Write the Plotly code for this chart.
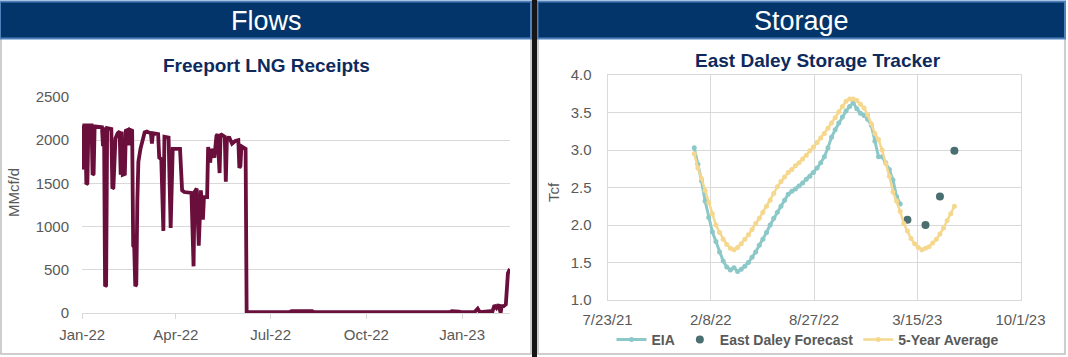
import plotly.graph_objects as go
import pandas as pd

W, H = 1068, 357

# ---------------- Data: Freeport LNG Receipts (MMcf/d) ----------------
flow_dates = [
    "2022-01-01", "2022-01-02", "2022-01-03", "2022-01-04", "2022-01-05", "2022-01-06",
    "2022-01-07", "2022-01-10", "2022-01-11", "2022-01-12", "2022-01-13", "2022-01-20",
    "2022-01-21", "2022-01-22", "2022-01-23", "2022-01-24", "2022-01-25", "2022-01-29",
    "2022-01-30", "2022-01-31", "2022-02-02", "2022-02-04", "2022-02-06", "2022-02-07",
    "2022-02-08", "2022-02-09", "2022-02-11", "2022-02-12", "2022-02-14", "2022-02-15",
    "2022-02-16", "2022-02-18", "2022-02-19", "2022-02-20", "2022-02-21", "2022-02-22",
    "2022-02-23", "2022-02-24", "2022-02-26", "2022-02-28", "2022-03-02", "2022-03-04",
    "2022-03-08", "2022-03-09", "2022-03-10", "2022-03-15", "2022-03-16", "2022-03-18",
    "2022-03-20", "2022-03-21", "2022-03-25", "2022-03-27", "2022-03-29", "2022-04-05",
    "2022-04-07", "2022-04-09", "2022-04-16", "2022-04-18", "2022-04-19", "2022-04-21",
    "2022-04-23", "2022-04-25", "2022-04-27", "2022-04-28", "2022-05-01", "2022-05-02",
    "2022-05-04", "2022-05-05", "2022-05-08", "2022-05-10", "2022-05-11", "2022-05-13",
    "2022-05-14", "2022-05-18", "2022-05-19", "2022-05-20", "2022-05-22", "2022-05-25",
    "2022-05-28", "2022-05-31", "2022-06-01", "2022-06-02", "2022-06-03", "2022-06-07",
    "2022-06-08", "2022-07-19", "2022-07-21", "2022-08-10", "2022-08-12", "2022-12-20",
    "2022-12-22", "2022-12-29", "2022-12-31", "2023-01-13", "2023-01-16", "2023-01-18",
    "2023-01-24", "2023-01-28", "2023-01-30", "2023-02-01", "2023-02-03", "2023-02-05",
    "2023-02-07", "2023-02-08", "2023-02-10", "2023-02-12", "2023-02-14", "2023-02-16",
]
flow_vals = [
    2170, 1660, 2170, 2170, 1490, 1500,
    2170, 2170, 1600, 1610, 2160, 2150,
    1930, 2150, 310, 320, 2140, 2130,
    1440, 1450, 2020, 2080, 2100, 1600,
    2100, 1600, 1610, 2110, 2120, 1940,
    2120, 2110, 780, 760, 310, 330,
    1300, 1750, 1900, 2000, 2090, 2100,
    2080, 1960, 2080, 2070, 1800, 1780,
    950, 2040, 2030, 985, 1900, 1900,
    1420, 1400, 1390, 540, 1400, 1440,
    780, 1420, 1080, 1340, 1340, 1920,
    1740, 1900, 1800, 2050, 2070, 1620,
    2070, 2040, 1520, 2000, 2040, 1960,
    1990, 2000, 1680, 1700, 1930, 1900,
    10, 10, 20, 20, 10, 10,
    20, 15, 10, 10, 50, 10,
    20, 20, 10, 90, 60, 100,
    0, 80, 80, 100, 460, 510,
]

# ---------------- Data: East Daley Storage Tracker (Tcf) ----------------
eia_start = "2022-01-07"
eia_vals = [
    3.03, 2.81, 2.59, 2.32, 2.10, 1.91, 1.78, 1.64, 1.52, 1.44,
    1.40, 1.43, 1.38, 1.41, 1.45, 1.50, 1.57, 1.64, 1.73, 1.81,
    1.90, 2.00, 2.09, 2.17, 2.25, 2.33, 2.41, 2.45, 2.48, 2.52,
    2.56, 2.61, 2.65, 2.70, 2.76, 2.83, 2.91, 3.03, 3.17, 3.27,
    3.36, 3.44, 3.52, 3.58, 3.63, 3.55, 3.49, 3.46, 3.41, 3.33,
    3.12, 2.91, 2.91, 2.83, 2.74, 2.60, 2.38, 2.28,
]
avg5_start = "2022-01-07"
avg5_vals = [
    2.95, 2.76, 2.62, 2.46, 2.30, 2.15, 2.00, 1.90, 1.81, 1.74,
    1.69, 1.67, 1.70, 1.75, 1.81, 1.87, 1.94, 2.02, 2.09, 2.17,
    2.25, 2.33, 2.42, 2.51, 2.58, 2.64, 2.70, 2.74, 2.79, 2.83,
    2.88, 2.93, 2.99, 3.04, 3.10, 3.16, 3.22, 3.29, 3.36, 3.43,
    3.51, 3.58, 3.65, 3.68, 3.68, 3.66, 3.61, 3.56, 3.47, 3.35,
    3.22, 3.14, 3.00, 2.82, 2.65, 2.44, 2.32, 2.18, 2.02, 1.92,
    1.82, 1.75, 1.70, 1.67, 1.69, 1.71, 1.76, 1.81, 1.88, 1.96,
    2.06, 2.15, 2.25,
]
fc_dates = ["2023-02-24", "2023-03-31", "2023-04-28", "2023-05-26"]
fc_vals = [2.07, 2.00, 2.38, 2.99]

eia_dates = pd.date_range(eia_start, periods=len(eia_vals), freq="7D")
avg5_dates = pd.date_range(avg5_start, periods=len(avg5_vals), freq="7D")

# ---------------- helpers ----------------
def X(p):
    return p / W

def Y(p):
    return 1 - p / H

NAVY = "#03356A"
HDR_BORDER = "#4F81BD"
GRID = "#D9D9D9"
TICK = "#595959"
TITLE = "#0E2A5C"
FONT = "Liberation Sans, Arial, sans-serif"

fig = go.Figure()

fig.add_trace(go.Scatter(
    x=flow_dates, y=flow_vals, mode="lines",
    line=dict(color="#6A0F3C", width=3.8),
    xaxis="x", yaxis="y", showlegend=False, hoverinfo="x+y",
))

fig.add_trace(go.Scatter(
    x=eia_dates, y=eia_vals, mode="lines+markers", name="EIA",
    line=dict(color="#8CC8C8", width=3),
    marker=dict(size=5, color="#8CC8C8"),
    xaxis="x2", yaxis="y2",
))
fig.add_trace(go.Scatter(
    x=fc_dates, y=fc_vals, mode="markers", name="East Daley Forecast",
    marker=dict(size=8, color="#4A6F71"),
    xaxis="x2", yaxis="y2",
))
fig.add_trace(go.Scatter(
    x=avg5_dates, y=avg5_vals, mode="lines+markers", name="5-Year Average",
    line=dict(color="#F5D78E", width=2.5),
    marker=dict(size=5, color="#F5D78E"),
    xaxis="x2", yaxis="y2",
))

shapes = [
    # panel bodies
    dict(type="rect", xref="paper", yref="paper", x0=X(1), x1=X(531), y0=Y(354), y1=Y(38),
         fillcolor="white", line=dict(color="#BFBFBF", width=1.5), layer="below"),
    dict(type="rect", xref="paper", yref="paper", x0=X(538), x1=X(1065), y0=Y(354), y1=Y(38),
         fillcolor="white", line=dict(color="#BFBFBF", width=1.5), layer="below"),
    # headers
    dict(type="rect", xref="paper", yref="paper", x0=X(0), x1=X(531), y0=Y(38.5), y1=Y(1.5),
         fillcolor=NAVY, line=dict(color=HDR_BORDER, width=2), layer="below"),
    dict(type="rect", xref="paper", yref="paper", x0=X(537.5), x1=X(1065), y0=Y(38.5), y1=Y(1.5),
         fillcolor=NAVY, line=dict(color=HDR_BORDER, width=2), layer="below"),
    # dark separator
    dict(type="rect", xref="paper", yref="paper", x0=X(532), x1=X(537), y0=0, y1=1,
         fillcolor="#151515", line=dict(width=0), layer="below"),
]

annotations = [
    dict(text="Flows", x=X(266), y=Y(21), xref="paper", yref="paper", showarrow=False,
         xanchor="center", yanchor="middle", font=dict(family=FONT, size=27, color="white")),
    dict(text="Storage", x=X(801), y=Y(21), xref="paper", yref="paper", showarrow=False,
         xanchor="center", yanchor="middle", font=dict(family=FONT, size=27, color="white")),
    dict(text="<b>Freeport LNG Receipts</b>", x=X(266), y=Y(65), xref="paper", yref="paper",
         showarrow=False, xanchor="center", yanchor="middle",
         font=dict(family=FONT, size=19, color=TITLE)),
    dict(text="<b>East Daley Storage Tracker</b>", x=X(818), y=Y(60), xref="paper", yref="paper",
         showarrow=False, xanchor="center", yanchor="middle",
         font=dict(family=FONT, size=19, color=TITLE)),
    dict(text="MMcf/d", x=X(13), y=Y(193), xref="paper", yref="paper", showarrow=False,
         textangle=-90, xanchor="center", yanchor="middle",
         font=dict(family=FONT, size=15, color=TICK)),
    dict(text="Tcf", x=X(553), y=Y(192), xref="paper", yref="paper", showarrow=False,
         textangle=-90, xanchor="center", yanchor="middle",
         font=dict(family=FONT, size=15, color=TICK)),
]

tickfont = dict(family=FONT, size=15, color=TICK)

fig.update_layout(
    width=W, height=H,
    margin=dict(l=0, r=0, t=0, b=0, pad=0, autoexpand=False),
    paper_bgcolor="white",
    plot_bgcolor="rgba(0,0,0,0)",
    shapes=shapes,
    annotations=annotations,
    xaxis=dict(
        domain=[X(82), X(510)], anchor="y", type="date", automargin=False,
        range=["2021-12-31 20:00", "2023-02-16"],
        tick0="2022-01-01", dtick="M3", tickformat="%b-%y",
        showgrid=False, showline=True, linecolor=GRID, linewidth=1,
        ticks="outside", ticklen=5, tickcolor=GRID, tickfont=tickfont,
        zeroline=False, ticklabelstandoff=3,
    ),
    yaxis=dict(
        domain=[Y(313), Y(97)], anchor="x", range=[0, 2500], dtick=500, automargin=False,
        showgrid=True, gridcolor=GRID, gridwidth=1, zeroline=False, showline=False,
        ticks="", tickfont=tickfont, ticklabelstandoff=12,
    ),
    xaxis2=dict(
        domain=[X(607.5), X(1020.5)], anchor="y2", type="date", automargin=False,
        range=["2021-07-22 22:00", "2023-10-01 02:00"],
        tick0="2021-07-23", dtick=200 * 86400000, tickformat="%-m/%-d/%y",
        showgrid=True, gridcolor=GRID, showline=True, mirror=True, linecolor=GRID,
        ticks="outside", ticklen=3, tickcolor="rgba(0,0,0,0)", tickfont=tickfont,
        zeroline=False, ticklabelstandoff=3,
    ),
    yaxis2=dict(
        domain=[Y(300), Y(75)], anchor="x2", range=[1, 4], dtick=0.5, tickformat=".1f",
        automargin=False,
        showgrid=True, gridcolor=GRID, showline=True, mirror=True, linecolor=GRID,
        ticks="", tickfont=tickfont, zeroline=False, ticklabelstandoff=12,
    ),
    legend=dict(
        orientation="h", x=X(808), xanchor="center", y=Y(340), yanchor="middle",
        font=dict(family=FONT, size=14, color=TICK, weight="bold"),
        bgcolor="rgba(0,0,0,0)", itemwidth=30, tracegroupgap=0,
    ),
    font=dict(family=FONT),
)

fig.write_html(
    "out.html",
    config={"displayModeBar": False},
    post_script="document.body.style.margin='0px';document.body.style.overflow='hidden';",
)
